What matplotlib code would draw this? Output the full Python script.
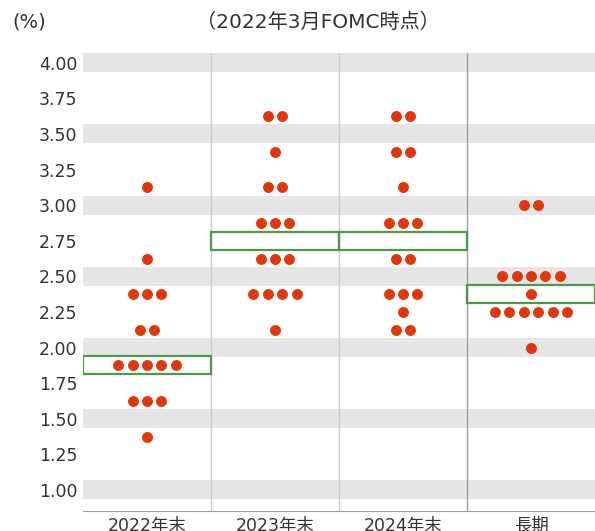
import numpy as np
import matplotlib.pyplot as plt
from matplotlib.patches import Rectangle

plt.rcParams['font.family'] = ['DejaVu Sans', 'Noto Sans CJK JP']

categories = ["2022年末", "2023年末", "2024年末", "長期"]
# (rate, number of participants) per period
dots_2022 = [(3.125, 1), (2.625, 1), (2.375, 3), (2.125, 2), (1.875, 5), (1.625, 3), (1.375, 1)]
dots_2023 = [(3.625, 2), (3.375, 1), (3.125, 2), (2.875, 3), (2.625, 3), (2.375, 4), (2.125, 1)]
dots_2024 = [(3.625, 2), (3.375, 2), (3.125, 1), (2.875, 3), (2.625, 2), (2.375, 3), (2.25, 1), (2.125, 2)]
dots_long = [(3.0, 2), (2.5, 5), (2.375, 1), (2.25, 6), (2.0, 1)]
medians = [1.875, 2.75, 2.75, 2.375]
yticks = [1.00, 1.25, 1.50, 1.75, 2.00, 2.25, 2.50, 2.75, 3.00, 3.25, 3.50, 3.75, 4.00]

dot_color = "#E0380C"
box_color = "#4A9A4A"
band_color = "#E6E6E6"

fig = plt.figure(figsize=(5.95, 5.31), dpi=100)
ax = fig.add_axes([83 / 595, 20 / 531, 512 / 595, 0.8993 - 20 / 531])
ax.set_xlim(0, 4)
ax.set_ylim(0.852, 4.065)

# grey bands at every 0.5
for v in yticks[::2]:
    ax.axhspan(v - 0.067, v + 0.067, color=band_color, lw=0, zorder=0)

# column separators
ax.axvline(1, color="#CCCCCC", lw=1, zorder=1)
ax.axvline(2, color="#CCCCCC", lw=1, zorder=1)
ax.axvline(3, color="#A0A0A0", lw=1, zorder=1)

# median boxes
for i, m in enumerate(medians):
    ax.add_patch(Rectangle((i, m - 0.0625), 1, 0.125, fill=False,
                           edgecolor=box_color, lw=1.6, zorder=2))

spacing = 0.113
for i, dots in enumerate([dots_2022, dots_2023, dots_2024, dots_long]):
    for rate, n in dots:
        xs = i + 0.5 + (np.arange(n) - (n - 1) / 2) * spacing
        ax.scatter(xs, [rate] * n, s=62, color=dot_color, lw=0, zorder=3)

ax.set_yticks(yticks)
ax.set_yticklabels([f"{v:.2f}" for v in yticks], fontsize=12.5, color="#333333")
ax.set_xticks([0.5, 1.5, 2.5, 3.5])
ax.set_xticklabels(categories, fontsize=12.5, color="#333333")
ax.tick_params(axis="both", length=0, pad=4)
for s in ["top", "right", "left"]:
    ax.spines[s].set_visible(False)
ax.spines["bottom"].set_color("#A0A0A0")

fig.text(12 / 595, 1 - 22 / 531, "(%)", fontsize=14, color="#333333", va="center")
fig.text(318 / 595, 1 - 22 / 531, "（2022年3月FOMC時点）", fontsize=14.5,
         color="#333333", va="center", ha="center")

fig.savefig("out.png", dpi=100)
